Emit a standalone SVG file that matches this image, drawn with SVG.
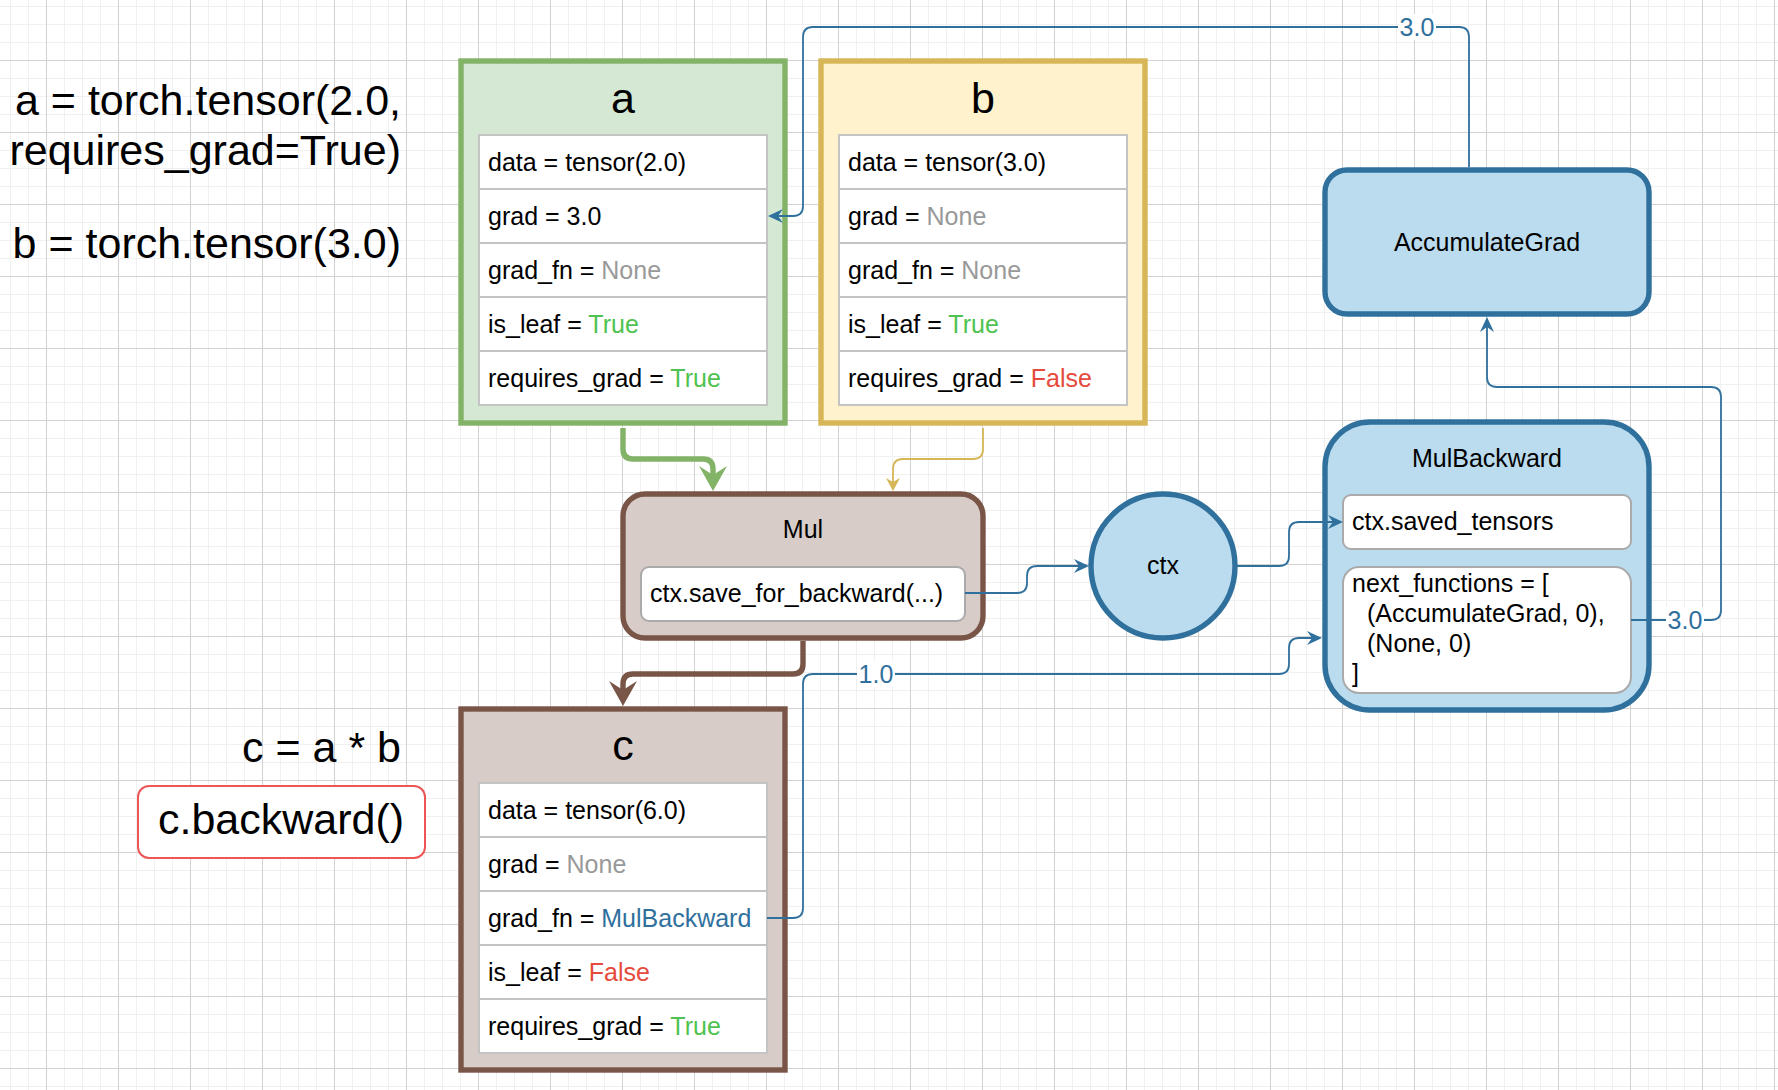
<svg xmlns="http://www.w3.org/2000/svg" width="1778" height="1090" viewBox="0 0 1778 1090">
<defs>
<pattern id="gMinor" width="18" height="18" patternUnits="userSpaceOnUse" x="10" y="6">
<path d="M0,0 V18 M0,0 H18" stroke="#f0f0f0" stroke-width="2" fill="none"/>
</pattern>
<pattern id="gMajor" width="72" height="72" patternUnits="userSpaceOnUse" x="46" y="60">
<path d="M0.5,0 V72 M0,0.5 H72" stroke="#d2d2d2" stroke-width="1" fill="none"/>
</pattern>
<marker id="arrBig" markerUnits="userSpaceOnUse" viewBox="-26 -15 27 30" markerWidth="27" markerHeight="30" refX="-16" refY="0" orient="auto">
<path d="M0,0 L-25,-14 L-16,0 L-25,14 Z" fill="context-stroke"/>
</marker>
<marker id="arrGreen" markerUnits="userSpaceOnUse" viewBox="-26 -15 27 30" markerWidth="27" markerHeight="30" refX="-16" refY="0" orient="auto">
<path d="M0,0 L-25,-14 L-16,0 L-25,14 Z" fill="#82b366"/>
</marker>
<marker id="arrBrown" markerUnits="userSpaceOnUse" viewBox="-26 -15 27 30" markerWidth="27" markerHeight="30" refX="-16" refY="0" orient="auto">
<path d="M0,0 L-25,-14 L-16,0 L-25,14 Z" fill="#795548"/>
</marker>
<marker id="arrYellow" markerUnits="userSpaceOnUse" viewBox="-14 -8 15 16" markerWidth="15" markerHeight="16" refX="-9" refY="0" orient="auto">
<path d="M0,0 L-13,-7 L-9,0 L-13,7 Z" fill="#d6b656"/>
</marker>
<marker id="arrBlue" markerUnits="userSpaceOnUse" viewBox="-16 -8 17 16" markerWidth="17" markerHeight="16" refX="-10" refY="0" orient="auto">
<path d="M0,0 L-15,-7 L-10,0 L-15,7 Z" fill="#30709d"/>
</marker>
</defs>
<style>
text{font-family:"Liberation Sans",Arial,Helvetica,sans-serif;fill:#000}
.code{font-size:43px;text-anchor:end}
.title{font-size:43px;text-anchor:middle}
.t{font-size:25px}
.mid{text-anchor:middle}
.row{fill:#fff;stroke:#c4c4c4;stroke-width:2}
.inner{fill:#fff;stroke:#aaaaaa;stroke-width:2}
.gray{fill:#999999}
.green{fill:#4fc34f}
.red{fill:#e64a3c}
.blue{fill:#30709d}
.edge{fill:none;stroke:#30709d;stroke-width:1.8}
.lbl{font-size:25px;text-anchor:middle;fill:#30709d}
</style>
<rect width="1778" height="1090" fill="#ffffff"/>
<rect width="1778" height="1090" fill="url(#gMinor)"/>
<rect width="1778" height="1090" fill="url(#gMajor)"/>

<g id="code-text">
<text class="code" x="401" y="115">a = torch.tensor(2.0,</text>
<text class="code" x="401" y="165">requires_grad=True)</text>
<text class="code" x="401" y="258">b = torch.tensor(3.0)</text>
<text class="code" x="401" y="762">c = a * b</text>
</g>

<g id="backward-call">
<rect x="138" y="786" width="287" height="72" rx="11" fill="#ffffff" stroke="#ee5555" stroke-width="2"/>
<text class="title" x="281" y="834">c.backward()</text>
</g>

<g id="node-a">
<rect x="461" y="61" width="324" height="362" fill="#d5e8d4" stroke="#82b366" stroke-width="5.4"/>
<text class="title" x="623" y="113">a</text>
<rect class="row" x="479" y="135" width="288" height="54"/>
<rect class="row" x="479" y="189" width="288" height="54"/>
<rect class="row" x="479" y="243" width="288" height="54"/>
<rect class="row" x="479" y="297" width="288" height="54"/>
<rect class="row" x="479" y="351" width="288" height="54"/>
<text class="t" x="488" y="171">data = tensor(2.0)</text>
<text class="t" x="488" y="225">grad = 3.0</text>
<text class="t" x="488" y="279">grad_fn = <tspan class="gray">None</tspan></text>
<text class="t" x="488" y="333">is_leaf = <tspan class="green">True</tspan></text>
<text class="t" x="488" y="387">requires_grad = <tspan class="green">True</tspan></text>
</g>

<g id="node-b">
<rect x="821" y="61" width="324" height="362" fill="#fff2cc" stroke="#d6b656" stroke-width="5.4"/>
<text class="title" x="983" y="113">b</text>
<rect class="row" x="839" y="135" width="288" height="54"/>
<rect class="row" x="839" y="189" width="288" height="54"/>
<rect class="row" x="839" y="243" width="288" height="54"/>
<rect class="row" x="839" y="297" width="288" height="54"/>
<rect class="row" x="839" y="351" width="288" height="54"/>
<text class="t" x="848" y="171">data = tensor(3.0)</text>
<text class="t" x="848" y="225">grad = <tspan class="gray">None</tspan></text>
<text class="t" x="848" y="279">grad_fn = <tspan class="gray">None</tspan></text>
<text class="t" x="848" y="333">is_leaf = <tspan class="green">True</tspan></text>
<text class="t" x="848" y="387">requires_grad = <tspan class="red">False</tspan></text>
</g>

<g id="node-mul">
<rect x="623" y="494" width="360" height="144" rx="22" fill="#d7ccc8" stroke="#795548" stroke-width="5.4"/>
<text class="t mid" x="803" y="538">Mul</text>
<rect class="inner" x="641" y="567" width="324" height="54" rx="8"/>
<text class="t" x="650" y="602">ctx.save_for_backward(...)</text>
</g>

<g id="node-c">
<rect x="461" y="709" width="324" height="361" fill="#d7ccc8" stroke="#795548" stroke-width="5.4"/>
<text class="title" x="623" y="760">c</text>
<rect class="row" x="479" y="783" width="288" height="54"/>
<rect class="row" x="479" y="837" width="288" height="54"/>
<rect class="row" x="479" y="891" width="288" height="54"/>
<rect class="row" x="479" y="945" width="288" height="54"/>
<rect class="row" x="479" y="999" width="288" height="54"/>
<text class="t" x="488" y="819">data = tensor(6.0)</text>
<text class="t" x="488" y="873">grad = <tspan class="gray">None</tspan></text>
<text class="t" x="488" y="927">grad_fn = <tspan class="blue">MulBackward</tspan></text>
<text class="t" x="488" y="981">is_leaf = <tspan class="red">False</tspan></text>
<text class="t" x="488" y="1035">requires_grad = <tspan class="green">True</tspan></text>
</g>

<g id="node-ctx">
<circle cx="1163" cy="566" r="72" fill="#badcee" stroke="#30709d" stroke-width="5.4"/>
<text class="t mid" x="1163" y="574">ctx</text>
</g>

<g id="node-accumulategrad">
<rect x="1325" y="170" width="324" height="144" rx="22" fill="#badcee" stroke="#30709d" stroke-width="5.4"/>
<text class="t mid" x="1487" y="251">AccumulateGrad</text>
</g>

<g id="node-mulbackward">
<rect x="1325" y="422" width="324" height="288" rx="45" fill="#badcee" stroke="#30709d" stroke-width="5.4"/>
<text class="t mid" x="1487" y="467">MulBackward</text>
<rect class="inner" x="1343" y="495" width="288" height="54" rx="8"/>
<text class="t" x="1352" y="530">ctx.saved_tensors</text>
<rect class="inner" x="1343" y="567" width="288" height="126" rx="16"/>
<text class="t">
<tspan x="1352" y="592">next_functions = [</tspan>
<tspan x="1367" y="622">(AccumulateGrad, 0),</tspan>
<tspan x="1367" y="652">(None, 0)</tspan>
<tspan x="1352" y="682">]</tspan>
</text>
</g>

<g id="connectors">
<path d="M623,428 L623,449 Q623,459 633,459 L703,459 Q713,459 713,469 L713,475" fill="none" stroke="#82b366" stroke-width="5.4" marker-end="url(#arrGreen)"/>
<path d="M983,428 L983,449 Q983,459 973,459 L903,459 Q893,459 893,469 L893,482" fill="none" stroke="#d6b656" stroke-width="1.8" marker-end="url(#arrYellow)"/>
<path d="M803,641 L803,664 Q803,674 793,674 L633,674 Q623,674 623,684 L623,690" fill="none" stroke="#795548" stroke-width="5.4" marker-end="url(#arrBrown)"/>
<path class="edge" d="M965,593 L1017,593 Q1027,593 1027,583 L1027,576 Q1027,566 1037,566 L1079,566" marker-end="url(#arrBlue)"/>
<path class="edge" d="M1236,566 L1279,566 Q1289,566 1289,556 L1289,532 Q1289,522 1299,522 L1333,522" marker-end="url(#arrBlue)"/>
<path class="edge" d="M767,918 L793,918 Q803,918 803,908 L803,684 Q803,674 813,674 L1279,674 Q1289,674 1289,664 L1289,648 Q1289,638 1299,638 L1312,638" marker-end="url(#arrBlue)"/>
<path class="edge" d="M1631,620 L1711,620 Q1721,620 1721,610 L1721,397 Q1721,387 1711,387 L1497,387 Q1487,387 1487,377 L1487,327" marker-end="url(#arrBlue)"/>
<path class="edge" d="M1469,167 L1469,37 Q1469,27 1459,27 L813,27 Q803,27 803,37 L803,206 Q803,216 793,216 L778,216" marker-end="url(#arrBlue)"/>
<rect x="857" y="661" width="38" height="26" fill="#ffffff"/>
<text class="lbl" x="876" y="683">1.0</text>
<rect x="1666" y="607" width="38" height="26" fill="#ffffff"/>
<text class="lbl" x="1685" y="629">3.0</text>
<rect x="1398" y="14" width="38" height="26" fill="#ffffff"/>
<text class="lbl" x="1417" y="36">3.0</text>
</g>
</svg>
